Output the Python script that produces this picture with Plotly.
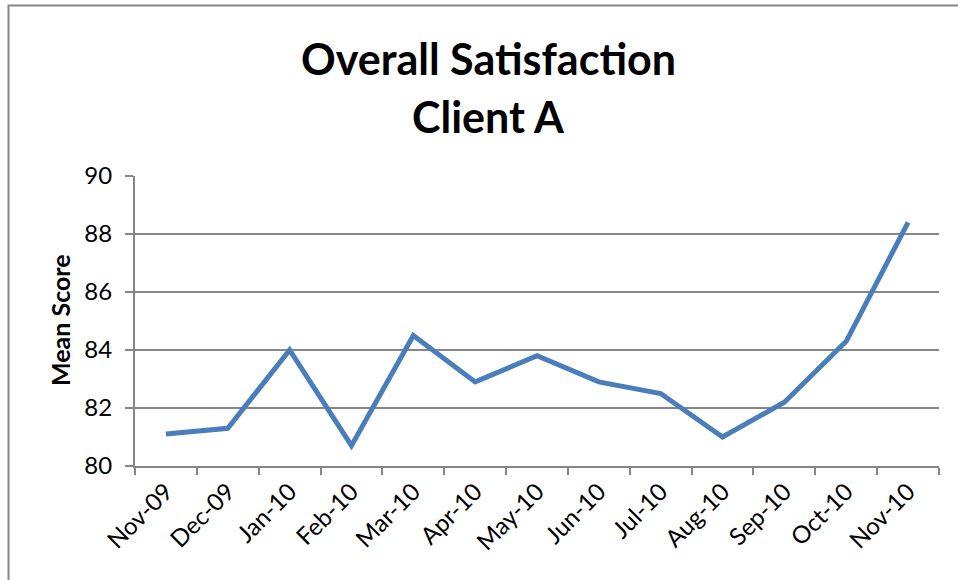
import plotly.graph_objects as go

months = ["Nov-09", "Dec-09", "Jan-10", "Feb-10", "Mar-10", "Apr-10", "May-10",
          "Jun-10", "Jul-10", "Aug-10", "Sep-10", "Oct-10", "Nov-10"]
mean_score = [81.1, 81.3, 84.0, 80.7, 84.5, 82.9, 83.8, 82.9, 82.5, 81.0, 82.2, 84.3, 88.4]
y_ticks = [80, 82, 84, 86, 88, 90]

W, H = 958, 580
L, R, T, B = 135, 19, 176, 114
pw, ph = W - L - R, H - T - B

def px_x(x):
    return (x - L) / pw

def px_y(y):
    return (H - B - y) / ph

FONT = "Lato"
GRAY = "#868686"

fig = go.Figure()
fig.add_trace(go.Scatter(x=months, y=mean_score, mode="lines",
                         line=dict(color="#4a7ebb", width=5), showlegend=False))

fig.update_layout(
    width=W, height=H,
    margin=dict(l=L, r=R, t=T, b=B),
    paper_bgcolor="white", plot_bgcolor="white",
    font=dict(family=FONT, color="black"),
    xaxis=dict(type="category", tickson="boundaries", ticks="outside", ticklen=7,
               tickcolor=GRAY, tickwidth=2, showline=True, linecolor=GRAY, linewidth=2,
               showgrid=False, tickangle=-45, tickfont=dict(size=24, family=FONT),
               range=[-0.5, len(months) - 0.5]),
    yaxis=dict(range=[80, 90], tickvals=y_ticks, ticks="outside", ticklen=8,
               tickcolor=GRAY, tickwidth=2, showline=True, linecolor=GRAY, linewidth=2,
               showgrid=True, gridcolor=GRAY, gridwidth=2, zeroline=False,
               ticklabelstandoff=8, tickfont=dict(size=24, family=FONT)),
)

# outer chart frame
fig.add_shape(type="rect", xref="paper", yref="paper",
              x0=px_x(8.5), x1=px_x(975), y0=px_y(600), y1=px_y(5.5),
              line=dict(color=GRAY, width=2), fillcolor="rgba(0,0,0,0)", layer="below")

fig.add_annotation(text="<b>Mean Score</b>", xref="paper", yref="paper",
                   x=px_x(60), y=px_y(320), showarrow=False, textangle=-90,
                   font=dict(size=25, family=FONT, color="black"), xanchor="center", yanchor="middle")
fig.add_annotation(text="<b>Overall Satisfaction</b>", xref="paper", yref="paper",
                   x=px_x(488), y=px_y(58), showarrow=False,
                   font=dict(size=43, family=FONT, color="black"), xanchor="center", yanchor="middle")
fig.add_annotation(text="<b>Client A</b>", xref="paper", yref="paper",
                   x=px_x(488), y=px_y(117), showarrow=False,
                   font=dict(size=43, family=FONT, color="black"), xanchor="center", yanchor="middle")

fig.write_html("out.html", config={"displayModeBar": False},
               post_script="document.body.style.margin='0';")
